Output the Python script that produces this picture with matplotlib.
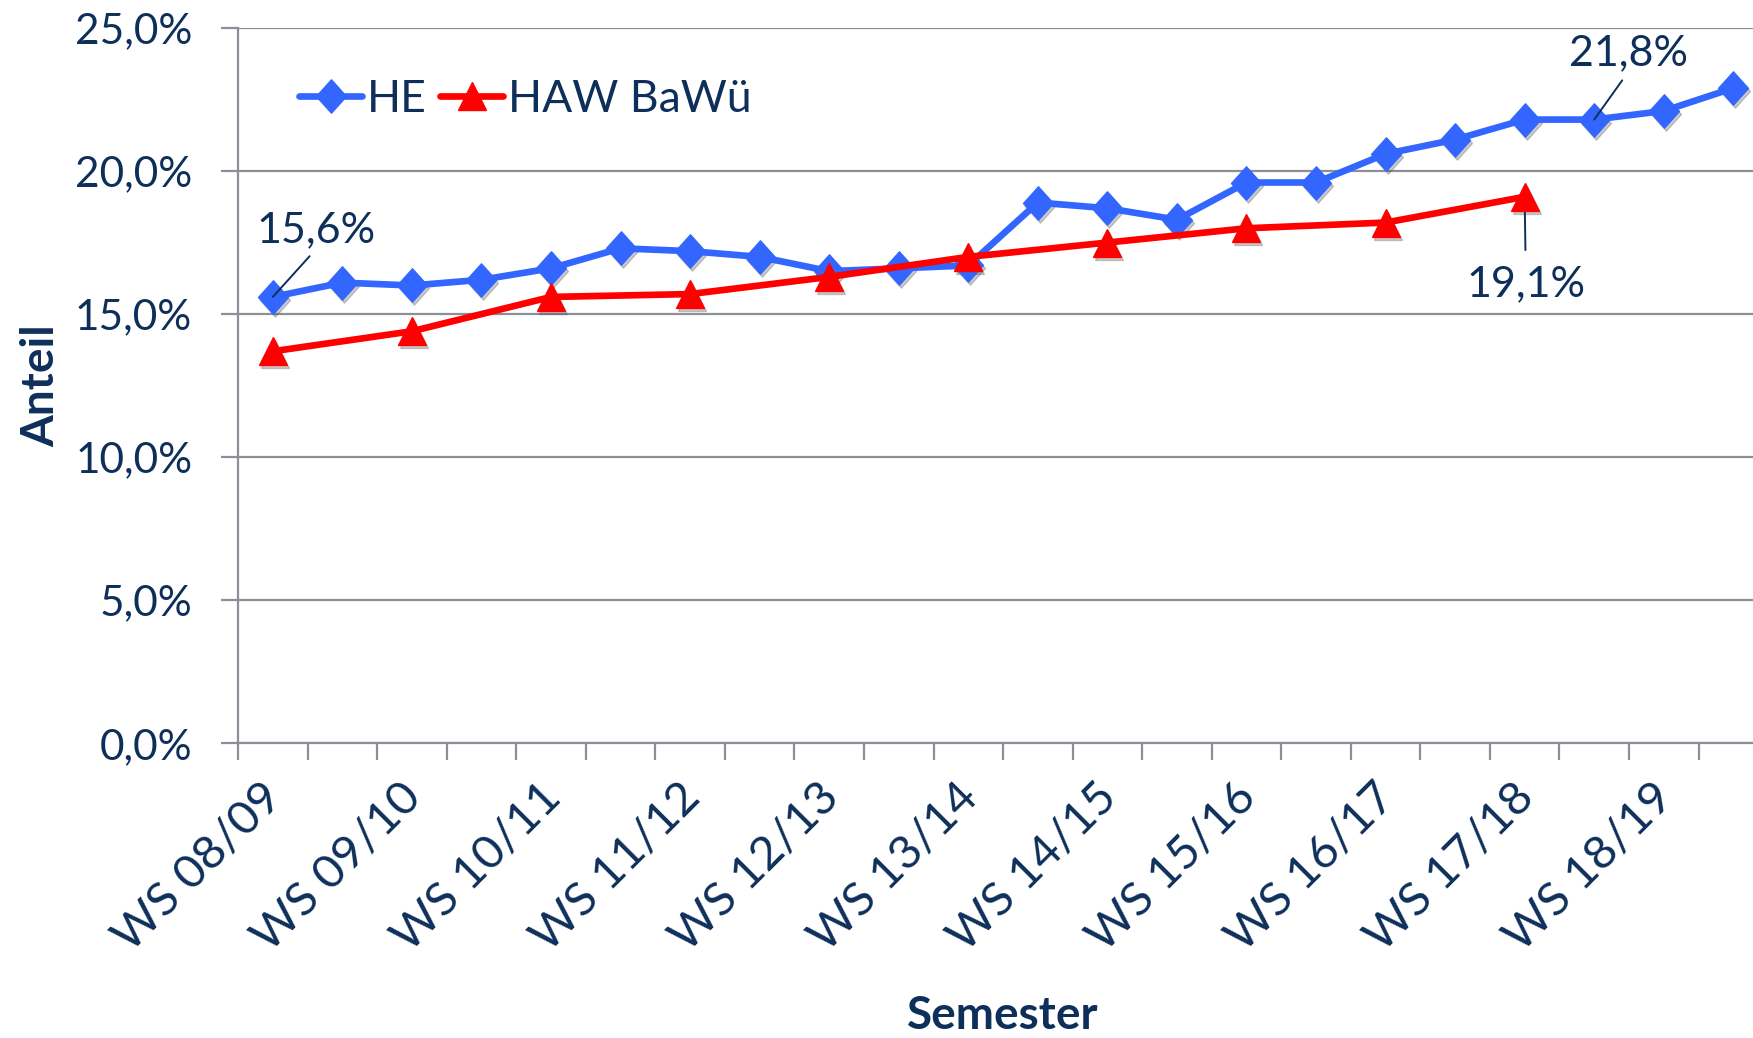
import matplotlib
matplotlib.use('Agg')
import matplotlib.pyplot as plt
import matplotlib.transforms as mtransforms
from matplotlib.path import Path
from matplotlib.ticker import FixedLocator, FuncFormatter

plt.rcParams['font.family'] = ['Lato', 'DejaVu Sans']

semesters = ['WS 08/09', 'SS 09', 'WS 09/10', 'SS 10', 'WS 10/11', 'SS 11',
             'WS 11/12', 'SS 12', 'WS 12/13', 'SS 13', 'WS 13/14', 'SS 14',
             'WS 14/15', 'SS 15', 'WS 15/16', 'SS 16', 'WS 16/17', 'SS 17',
             'WS 17/18', 'SS 18', 'WS 18/19', 'SS 19']
he_share = [15.6, 16.1, 16.0, 16.2, 16.6, 17.3, 17.2, 17.0, 16.5, 16.6, 16.7,
            18.9, 18.7, 18.3, 19.6, 19.6, 20.6, 21.1, 21.8, 21.8, 22.1, 22.9]

haw_semesters = ['WS 08/09', 'WS 09/10', 'WS 10/11', 'WS 11/12', 'WS 12/13',
                 'WS 13/14', 'WS 14/15', 'WS 15/16', 'WS 16/17', 'WS 17/18']
haw_share = [13.7, 14.4, 15.6, 15.7, 16.3, 17.0, 17.5, 18.0, 18.2, 19.1]

y_ticks = [0, 5, 10, 15, 20, 25]

TEXT = '#0e2f5a'
GRID = '#8b8f9a'
BLUE = '#3366ff'
RED = '#ff0000'

diamond = Path([(0, 1), (0.9, 0), (0, -1), (-0.9, 0), (0, 1)],
               [Path.MOVETO, Path.LINETO, Path.LINETO, Path.LINETO, Path.CLOSEPOLY])

fig = plt.figure(figsize=(17.53, 10.38), dpi=100)
ax = fig.add_axes([0.1358, 0.284, 0.8728, 0.689])

# soft marker shadows like the office chart
shadow = mtransforms.offset_copy(ax.transData, fig=fig, x=2, y=-3, units='dots')
ax.plot(semesters, he_share, ls='none', marker=diamond, ms=24, color='#555555',
        alpha=0.3, transform=shadow, zorder=2)
ax.plot(haw_semesters, haw_share, ls='none', marker='^', ms=20, color='#555555',
        alpha=0.3, transform=shadow, zorder=2)

ax.plot(semesters, he_share, color=BLUE, lw=4.8, marker=diamond, ms=24,
        solid_capstyle='round', label='HE', zorder=3)
ax.plot(haw_semesters, haw_share, color=RED, lw=4.8, marker='^', ms=20,
        solid_capstyle='round', label='HAW BaWü', zorder=4)

ax.set_xlim(-0.5, len(semesters) - 0.5)
ax.set_ylim(0, 25)

ax.yaxis.set_major_locator(FixedLocator(y_ticks))
ax.yaxis.set_major_formatter(FuncFormatter(lambda v, p: f'{v:.1f}%'.replace('.', ',')))
ax.grid(axis='y', color=GRID, lw=1.6)
ax.set_axisbelow(True)

ax.set_xticks(range(0, len(semesters), 2))
ax.set_xticklabels(semesters[::2])
ax.xaxis.set_minor_locator(FixedLocator([i - 0.5 for i in range(len(semesters) + 1)]))
ax.tick_params(axis='x', which='major', length=0, pad=23, labelsize=34, labelcolor=TEXT)
ax.tick_params(axis='x', which='minor', length=12, width=1.6, color=GRID)
ax.tick_params(axis='y', length=12, width=1.6, color=GRID, pad=21, labelsize=30.5,
               labelcolor=TEXT)
nudge = mtransforms.ScaledTranslation(-9 / 72, 0, fig.dpi_scale_trans)
for lab in ax.get_xticklabels():
    lab.set_rotation(45)
    lab.set_ha('right')
    lab.set_va('top')
    lab.set_rotation_mode('anchor')
    lab.set_transform(lab.get_transform() + nudge)

for s in ['top', 'right']:
    ax.spines[s].set_visible(False)
for s in ['left', 'bottom']:
    ax.spines[s].set_color(GRID)
    ax.spines[s].set_linewidth(1.6)

ax.set_ylabel('Anteil', fontsize=33, fontweight='bold', color=TEXT)
ax.yaxis.set_label_coords(-0.115, 0.5)
ax.set_xlabel('Semester', fontsize=33, fontweight='bold', color=TEXT, va='baseline')
ax.xaxis.set_label_coords(0.5, -0.399)

leg = ax.legend(loc='center left', bbox_to_anchor=(0.04, 0.9), ncol=2, frameon=False,
                fontsize=32, handlelength=1.42, handletextpad=0.1, columnspacing=0.3,
                borderpad=0, borderaxespad=0)
for t in leg.get_texts():
    t.set_color(TEXT)

arrow = dict(arrowstyle='-', color=TEXT, lw=1.4, shrinkB=0)
ax.annotate('15,6%', xy=(semesters[0], he_share[0]), xytext=(31, 48),
            textcoords='offset points', ha='center', va='center', fontsize=31,
            color=TEXT, arrowprops=dict(arrow, relpos=(0.5, 0), shrinkA=4))
ax.annotate('21,8%', xy=(semesters[19], he_share[19]), xytext=(24.5, 48),
            textcoords='offset points', ha='center', va='center', fontsize=31,
            color=TEXT, arrowprops=dict(arrow, relpos=(0.5, 0), shrinkA=5))
ax.annotate('19,1%', xy=(haw_semesters[-1], haw_share[-1]), xytext=(0.7, -63),
            textcoords='offset points', ha='center', va='center', fontsize=31,
            color=TEXT, arrowprops=dict(arrow, relpos=(0.5, 1), shrinkA=9))

fig.savefig('out.png', dpi=100)
